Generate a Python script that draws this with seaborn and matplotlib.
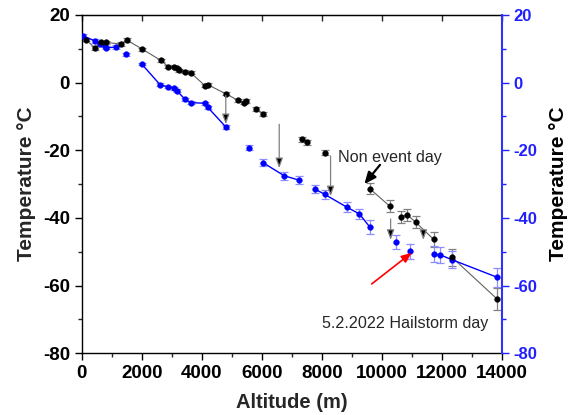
import numpy as np
import pandas as pd
import matplotlib
matplotlib.use("Agg")
import matplotlib.pyplot as plt
from matplotlib.ticker import MultipleLocator
import seaborn as sns

# ---- Non event day (black) ----
black_alt = [143, 443, 643, 810, 1300, 1500, 2020, 2630, 2890, 3090, 3170, 3240,
             3440, 3630, 4110, 4200, 4800, 5200, 5390, 5470, 5810, 6050, 7330,
             7520, 8090, 9590, 10260, 10640, 10850, 11130, 11720, 12330, 13830]
black_temp = [12.7, 10.2, 11.9, 11.9, 11.4, 12.6, 9.9, 6.6, 4.7, 4.6, 4.2, 3.6,
              3.2, 2.9, -0.9, -0.6, -3.3, -5.2, -5.9, -5.4, -7.8, -9.2, -16.7,
              -17.6, -20.7, -31.3, -36.5, -39.6, -39.1, -41.3, -46.3, -51.6, -63.9]
black_err = [0.5, 0.6, 0.5, 0.5, 0.5, 0.5, 0.4, 0.4, 0.4, 0.4, 0.4, 0.4,
             0.4, 0.4, 0.4, 0.4, 0.4, 0.5, 0.5, 0.5, 0.5, 0.6, 0.7,
             0.7, 0.8, 1.5, 1.8, 1.8, 1.8, 1.8, 2.2, 2.5, 3.3]
black_seg = [0] * 20 + [1, 1, 2, 2, 3, 4, 4, 5, 5, 5, 5, 6, 6]

# ---- 5.2.2022 Hailstorm day (blue) ----
blue_alt = [55, 443, 610, 777, 800, 1133, 1477, 2000, 2610, 2890, 3090, 3170,
            3440, 3630, 4110, 4200, 4800, 5580, 6050, 6740, 7230, 7780, 8090,
            8830, 9250, 9590, 10480, 10940, 11720, 11940, 12350, 13830]
blue_temp = [13.8, 12.3, 11.4, 10.9, 10.3, 10.5, 8.4, 5.5, -0.6, -1.3, -1.7, -2.4,
             -4.9, -5.9, -6.1, -7.3, -13.1, -19.2, -23.7, -27.5, -28.8, -31.5, -33.0,
             -36.8, -38.8, -42.6, -47.1, -49.8, -50.7, -50.9, -52.4, -57.5]
blue_err = [0.5, 0.5, 0.5, 0.5, 0.5, 0.5, 0.4, 0.4, 0.4, 0.4, 0.4, 0.4,
            0.4, 0.4, 0.4, 0.5, 0.5, 0.8, 1.0, 1.2, 1.2, 1.2, 1.3,
            1.5, 1.5, 2.0, 2.2, 2.2, 2.4, 2.4, 2.5, 2.8]
blue_seg = [0] * 6 + [1] + [2] * 10 + [3] + [4, 4, 4] + [5] * 5 + [6, 7] + [8] * 4

x_ticks = [0, 2000, 4000, 6000, 8000, 10000, 12000, 14000]
y_ticks = [-80, -60, -40, -20, 0, 20]

sns.set_style("ticks")
plt.rcParams["font.family"] = ["Liberation Sans", "DejaVu Sans"]
plt.rcParams["font.weight"] = "bold"
plt.rcParams["axes.unicode_minus"] = False

dfb = pd.DataFrame({"alt": black_alt, "temp": black_temp, "err": black_err, "seg": black_seg})
dfu = pd.DataFrame({"alt": blue_alt, "temp": blue_temp, "err": blue_err, "seg": blue_seg})

fig, ax = plt.subplots(figsize=(5.7, 4.15), dpi=100)
fig.subplots_adjust(left=0.1433, right=0.8807, top=0.9639, bottom=0.1487)

# error bars
ax.errorbar(dfb["alt"], dfb["temp"], yerr=dfb["err"], fmt="none", ecolor="#808080",
            elinewidth=0.9, capsize=3, capthick=0.9, zorder=2)
ax.errorbar(dfu["alt"], dfu["temp"], yerr=dfu["err"], fmt="none", ecolor="#8c8cff",
            elinewidth=0.9, capsize=3, capthick=0.9, zorder=2)

# lines (segments)
sns.lineplot(data=dfb, x="alt", y="temp", units="seg", estimator=None, color="#606060",
             lw=0.8, ax=ax, legend=False, zorder=3)
sns.lineplot(data=dfu, x="alt", y="temp", units="seg", estimator=None, color="blue",
             lw=1.0, ax=ax, legend=False, zorder=3)

# markers
sns.scatterplot(data=dfb, x="alt", y="temp", color="black", s=17, edgecolor="black",
                linewidth=0.3, ax=ax, legend=False, zorder=5)
sns.scatterplot(data=dfu, x="alt", y="temp", color="blue", s=17, edgecolor="blue",
                linewidth=0.3, ax=ax, legend=False, zorder=4)

# annotations: arrows
gray_arrows = [((4800, -3.8), (4800, -12.3)),
               ((6580, -12.3), (6580, -25.3)),
               ((8290, -21.7), (8290, -33.6)),
               ((10290, -40.3), (10290, -46.5)),
               ((11380, -44.3), (11380, -46.5))]
for (x0, y0), (x1, y1) in gray_arrows:
    ax.annotate("", xy=(x1, y1), xytext=(x0, y0),
                arrowprops=dict(arrowstyle="-|>,head_length=0.6,head_width=0.22",
                                ec="#808080", fc="black", lw=0.9,
                                shrinkA=0, shrinkB=0), zorder=6)
ax.annotate("", xy=(9414, -30.0), xytext=(9937, -24.3),
            arrowprops=dict(arrowstyle="-|>,head_length=0.7,head_width=0.3",
                            color="black", lw=1.6, shrinkA=0, shrinkB=0), zorder=6)
ax.annotate("", xy=(10990, -50.3), xytext=(9660, -59.5),
            arrowprops=dict(arrowstyle="-|>,head_length=0.6,head_width=0.25",
                            color="red", lw=1.2, shrinkA=0, shrinkB=0), zorder=6)

ax.text(8530, -22, "Non event day", fontsize=11.6, fontweight="normal", va="center", ha="left")
ax.text(8000, -71.1, "5.2.2022 Hailstorm day", fontsize=11.6, fontweight="normal",
        va="center", ha="left")

# axes
ax.set_xlim(0, 14000)
ax.set_ylim(-80, 20)
ax.set_xticks(x_ticks)
ax.set_yticks(y_ticks)
ax.xaxis.set_minor_locator(MultipleLocator(1000))
ax.yaxis.set_minor_locator(MultipleLocator(10))
ax.tick_params(axis="both", which="major", direction="out", length=5, width=1,
               labelsize=13.5, colors="black")
ax.tick_params(axis="both", which="minor", direction="out", length=3, width=1)
ax.tick_params(axis="y", right=False, which="both")
ax.set_xlabel("Altitude (m)", fontsize=14.5, fontweight="bold", labelpad=8)
ax.set_ylabel("Temperature °C", fontsize=15, fontweight="bold", labelpad=5)
for s in ["left", "bottom", "top"]:
    ax.spines[s].set_visible(True)
    ax.spines[s].set_color("black")
    ax.spines[s].set_linewidth(1.0)
ax.spines["right"].set_visible(False)

top = ax.secondary_xaxis("top")
top.set_xticks(x_ticks)
top.tick_params(direction="in", length=4, width=1, labeltop=False)

ax2 = ax.twinx()
ax2.set_ylim(-80, 20)
ax2.set_yticks(y_ticks)
ax2.yaxis.set_minor_locator(MultipleLocator(10))
ax2.tick_params(axis="y", which="major", direction="out", length=5, width=1,
                labelsize=12, colors="#2020ff", labelcolor="#2020ff")
ax2.tick_params(axis="y", which="minor", direction="out", length=3, width=1, colors="#2020ff")
for s in ["left", "bottom", "top"]:
    ax2.spines[s].set_visible(False)
ax2.spines["right"].set_visible(True)
ax2.spines["right"].set_color("#3030ff")
ax2.spines["right"].set_linewidth(1.5)
ax2.set_ylabel("Temperature °C", fontsize=15, fontweight="bold", color="black", labelpad=8)

fig.savefig("out.png", dpi=100)
